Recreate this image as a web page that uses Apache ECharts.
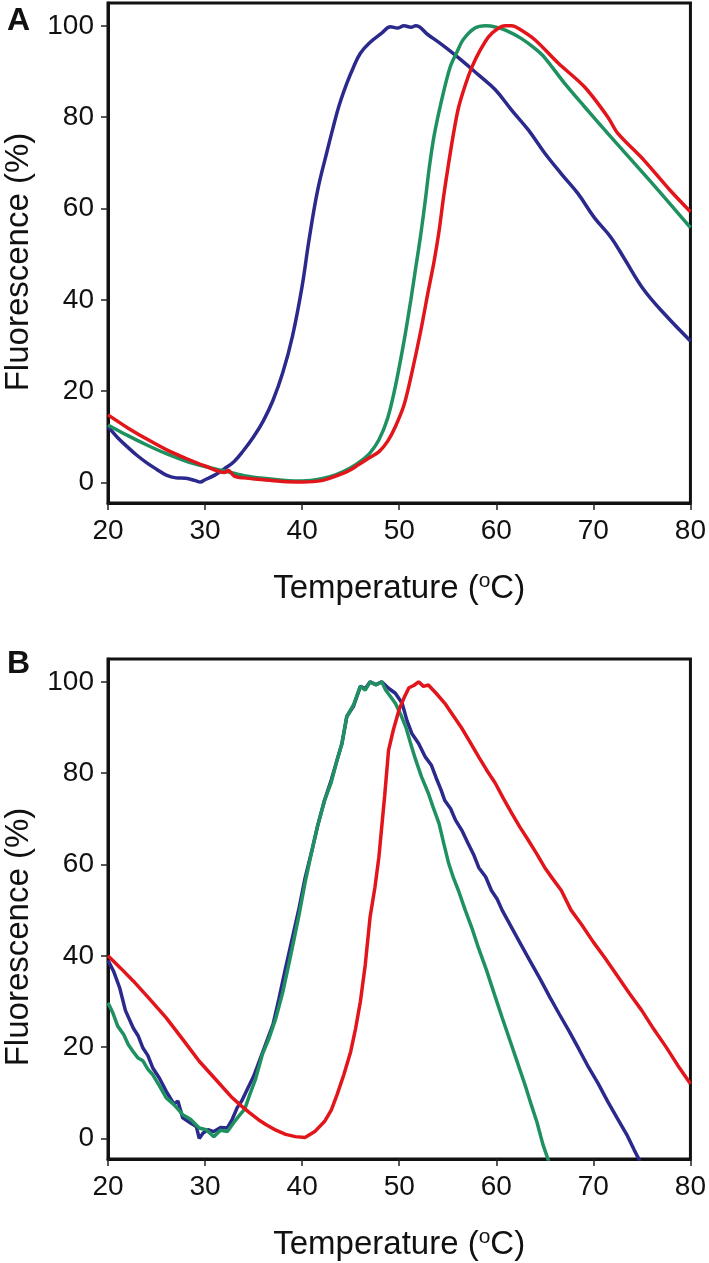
<!DOCTYPE html>
<html>
<head>
<meta charset="utf-8">
<script src="https://cdn.jsdelivr.net/npm/echarts@6/dist/echarts.min.js"></script>
<style>
html,body{margin:0;padding:0;background:#fff;}
#chart{width:709px;height:1263px;}
</style>
</head>
<body>
<div id="chart"></div>
<script>
// ---------- Data (Temperature °C, Fluorescence %) ----------
var xTicks = [20, 30, 40, 50, 60, 70, 80];
var yTicks = [0, 20, 40, 60, 80, 100];

// Panel A
var aBlueT = [20, 21, 22, 23, 24, 25, 26, 27, 28, 29, 29.5, 30, 31, 32, 33, 34, 35, 36, 37, 38, 39, 40, 40.7, 41.6, 42.6, 43.1, 43.8, 44.6, 45.3, 46, 46.9, 48.2, 49.1, 49.8, 50.5, 51.2, 51.7, 53, 54.7, 56.4, 58.2, 59.9, 61.6, 63.3, 65, 66.7, 68.4, 70.1, 71.8, 73.2, 75.2, 77.5, 80];
var aBlueF = [12.2, 9.8, 7.8, 5.9, 4.3, 2.9, 1.6, 1.0, 0.9, 0.4, 0.1, 0.6, 1.6, 3.0, 4.6, 7.1, 10, 13.5, 18, 24, 32, 43, 53, 64, 72.8, 77, 82.5, 87.4, 91, 94, 96.2, 98.4, 99.8, 99.5, 100, 99.7, 100, 98, 95.4, 92.5, 89.2, 86, 81.5, 77.2, 72.1, 67.6, 63.3, 58, 53.7, 49, 42.2, 36.5, 31];

var aGreenT = [20, 22, 24, 26, 28, 30, 32, 34, 36, 38, 40, 42, 43.5, 45, 46, 47, 47.9, 48.8, 49.6, 50.5, 51.2, 51.7, 52.2, 52.7, 53.1, 53.6, 54.4, 55.25, 56, 56.6, 57.8, 58.9, 60, 61, 62.6, 64, 65, 67, 69, 71.8, 74.6, 77.3, 80];
var aGreenF = [12.6, 10.3, 8.2, 6.3, 4.7, 3.5, 2.5, 1.5, 0.9, 0.5, 0.3, 0.8, 1.7, 3.2, 4.6, 6.5, 9.3, 14, 21, 31, 40, 47, 54, 62, 69, 76, 84, 91, 94.5, 97, 99.5, 100, 99.7, 99, 97.2, 95, 93, 87.5, 82.5, 75.7, 69, 62.5, 55.8];

var aRedT = [20, 22, 24, 26, 28, 30, 32, 32.4, 33, 34, 36, 38, 40, 42, 44, 45, 45.8, 47, 47.9, 48.8, 49.6, 50.5, 51.3, 52.2, 53, 53.6, 54.1, 54.6, 55.1, 55.6, 56.1, 56.8, 57.5, 58.3, 59.2, 60.1, 60.9, 61.6, 62.3, 64, 66.4, 69.1, 71.5, 72.5, 75.2, 77.9, 80];
var aRedF = [14.8, 12, 9.5, 7.2, 5.3, 3.6, 2.2, 2.6, 1.4, 1.0, 0.6, 0.2, 0.1, 0.4, 1.8, 2.8, 3.9, 5.5, 6.7, 9, 12.2, 17, 24, 33, 42, 48.5, 55, 63, 70, 76.5, 82, 87, 91, 94.5, 97.6, 99.3, 100, 100, 99.4, 96.9, 91.8, 86.6, 80, 76.5, 70.6, 64, 59.3];

// Panel B
var bBlueT = [20, 20.6, 21.2, 21.8, 22.6, 23.1, 23.6, 24.1, 24.6, 25.3, 26, 26.8, 27.2, 27.7, 28.5, 29.1, 29.4, 29.8, 30.3, 30.9, 31.6, 32.3, 32.8, 33.3, 33.8, 34.4, 35, 35.6, 36.3, 37, 37.6, 38.3, 39, 39.7, 40.3, 41, 41.6, 42.3, 43, 43.6, 44.1, 44.6, 45.3, 46, 46.5, 47, 47.6, 48.2, 48.9, 49.6, 50.3, 50.8, 51.3, 52, 52.7, 53.3, 53.8, 54.3, 54.7, 55.3, 55.8, 56.5, 57.1, 57.7, 58.2, 58.9, 59.5, 60.1, 60.6, 61.5, 62.5, 63.5, 64.5, 65.5, 66.5, 67.5, 68.5, 69.5, 70.5, 71.5, 72.5, 73.5, 74.2, 74.8];
var bBlueF = [39, 36.5, 33, 28, 24.2, 22.5, 19.8, 18.2, 15.5, 13.2, 10.3, 7.5, 8.2, 4.5, 3.4, 2.6, 0, 1.2, 1.9, 1.5, 2.4, 2.3, 4.2, 6.7, 8.3, 11, 13.6, 17, 21, 25, 30.5, 37.4, 44, 50.6, 57, 63, 68.5, 74, 78.5, 82.9, 86.5, 92.4, 94.7, 99, 98.5, 100, 99.4, 100, 98.6, 97.5, 95.3, 91.5, 88.7, 86.5, 83.5, 81.8, 79, 76.4, 74, 72.2, 69.7, 67.3, 64.6, 62, 59.3, 57.3, 54.3, 52.4, 50, 46.5, 42.6, 38.8, 35, 31, 27.2, 23.5, 19.6, 15.6, 12, 8, 4.3, 0.6, -2.5, -5];

var bGreenT = [20, 20.5, 21, 21.6, 22.1, 22.6, 23.1, 23.6, 24.1, 24.6, 25.3, 26, 26.8, 27.7, 28.5, 29.4, 30.1, 30.9, 31.6, 32.3, 33, 33.6, 34.1, 34.6, 35.2, 35.9, 36.6, 37.3, 38, 38.7, 39.2, 39.7, 40.3, 41, 41.6, 42.3, 43, 43.6, 44.1, 44.6, 45.3, 46, 46.5, 47, 47.6, 48.2, 48.6, 49.1, 49.6, 50.2, 50.7, 51.2, 51.7, 52.3, 53, 53.5, 54.1, 54.6, 55.1, 55.6, 56.1, 56.8, 57.5, 58.2, 59, 59.8, 60.6, 61.4, 62.2, 63, 63.6, 64.2, 64.8, 65.4];
var bGreenF = [29.7, 27.5, 24.6, 22.8, 20.5, 19, 17.6, 17, 15.2, 14, 11.5, 8.9, 7.4, 5.2, 4.2, 2.3, 1.9, 0.4, 1.8, 1.5, 3.6, 5.2, 6.5, 9.6, 13, 18.4, 22, 26.4, 32, 38.9, 44, 49.2, 56, 63, 68.5, 74, 78, 82.9, 86.5, 92.4, 95, 99, 98.2, 100, 99.3, 100, 98.2, 96.8, 95.3, 92.6, 90, 86.3, 82.9, 79.2, 75.6, 72.5, 69, 64.5, 60.2, 57, 54.3, 50, 46, 41.5, 36.8, 31.6, 26.5, 21.5, 16.5, 11.5, 7.4, 3.5, -1.3, -5];

var bRedT = [20, 21.3, 22.6, 24.3, 26, 27.7, 29.4, 31.1, 32.8, 33.7, 34.6, 35.5, 36.3, 37.3, 38.3, 39.3, 40.3, 41.3, 42.3, 43, 43.6, 44.3, 45, 45.5, 46, 46.5, 47, 47.5, 47.9, 48.5, 48.9, 49.4, 50, 50.5, 51, 51.5, 52, 52.5, 53, 53.8, 54.7, 55.5, 56.4, 57.3, 58.2, 59, 59.9, 60.7, 61.6, 62.4, 63.3, 64.2, 65, 65.8, 66.7, 67.7, 68.8, 70, 71.2, 72.5, 73.7, 75, 76.2, 77.5, 78.7, 80];
var bRedF = [40, 37.3, 34.5, 30.5, 26.4, 21.7, 16.9, 12.9, 8.9, 7.2, 5.6, 4.1, 3, 1.8, 0.9, 0.4, 0.2, 1.5, 3.7, 6.2, 9.6, 14, 19, 24, 30, 38, 48.5, 55, 61.5, 75, 85, 89.5, 94, 96.5, 98.7, 99.2, 100, 99, 99.3, 97.5, 95.3, 92.8, 90, 86.8, 83.5, 80.7, 77.8, 74.6, 71.2, 68.3, 65.3, 62.2, 59.3, 56.9, 54.3, 50, 46.8, 43, 39.5, 35.5, 31.8, 28, 24, 20, 16, 12];

// ---------- helpers ----------
function zip(t, f) { return t.map(function (v, i) { return [v, f[i]]; }); }

var BLUE = '#2b2a8c', GREEN = '#1f9160', RED = '#e2151b';
var FONT = "'Liberation Sans', Arial, sans-serif";

function xAxisFor(gi) {
  return {
    type: 'value', gridIndex: gi, min: 20, max: 80, interval: 10,
    axisLine: { show: true, onZero: false, lineStyle: { color: '#111', width: 3 } },
    axisTick: { show: true, inside: false, length: 7, lineStyle: { color: '#222', width: 1.5 } },
    axisLabel: { color: '#111', fontSize: 28, fontFamily: FONT, margin: 14 },
    splitLine: { show: false },
    name: 'Temperature ({sup|o}C)',
    nameLocation: 'middle', nameGap: 68,
    nameTextStyle: {
      color: '#111', fontSize: 33, fontFamily: FONT,
      rich: { sup: { fontSize: 21, fontFamily: FONT, color: '#111', verticalAlign: 'bottom', padding: [0, 0, 14, 0] } }
    }
  };
}
function yAxisFor(gi) {
  return {
    type: 'value', gridIndex: gi, min: -4.5, max: 105,
    axisLine: { show: true, onZero: false, lineStyle: { color: '#111', width: 3 } },
    axisTick: { show: true, inside: false, length: 7, customValues: yTicks, lineStyle: { color: '#222', width: 1.5 } },
    axisLabel: { color: '#111', fontSize: 28, fontFamily: FONT, margin: 14, customValues: yTicks },
    splitLine: { show: false }
  };
}
function line(name, data, color, xi, smooth) {
  return {
    name: name, type: 'line', xAxisIndex: xi, yAxisIndex: xi, data: data,
    showSymbol: false, smooth: smooth, clip: true,
    lineStyle: { color: color, width: 3.5 }, itemStyle: { color: color }
  };
}

var chart = echarts.init(document.getElementById('chart'), null, { renderer: 'canvas' });
chart.setOption({
  animation: false,
  backgroundColor: '#fff',
  grid: [
    { left: 108, top: 3, width: 585, height: 500, show: true, borderColor: '#111', borderWidth: 3, backgroundColor: 'transparent' },
    { left: 108, top: 659, width: 585, height: 500, show: true, borderColor: '#111', borderWidth: 3, backgroundColor: 'transparent' }
  ],
  xAxis: [xAxisFor(0), xAxisFor(1)],
  yAxis: [yAxisFor(0), yAxisFor(1)],
  series: [
    line('A blue', zip(aBlueT, aBlueF), BLUE, 0, 0.4),
    line('A green', zip(aGreenT, aGreenF), GREEN, 0, 0.3),
    line('A red', zip(aRedT, aRedF), RED, 0, 0.3),
    line('B blue', zip(bBlueT, bBlueF), BLUE, 1, false),
    line('B green', zip(bGreenT, bGreenF), GREEN, 1, false),
    line('B red', zip(bRedT, bRedF), RED, 1, false)
  ],
  graphic: [
    { type: 'text', x: 7, y: 5, style: { text: 'A', font: 'bold 32px ' + FONT, fill: '#111' } },
    { type: 'text', x: 7, y: 648, style: { text: 'B', font: 'bold 32px ' + FONT, fill: '#111' } },
    { type: 'text', x: 19, y: 262, rotation: Math.PI / 2,
      style: { text: 'Fluorescence (%)', font: '33px ' + FONT, fill: '#111', align: 'center', verticalAlign: 'middle' } },
    { type: 'text', x: 19, y: 937, rotation: Math.PI / 2,
      style: { text: 'Fluorescence (%)', font: '33px ' + FONT, fill: '#111', align: 'center', verticalAlign: 'middle' } }
  ]
});
</script>
</body>
</html>
